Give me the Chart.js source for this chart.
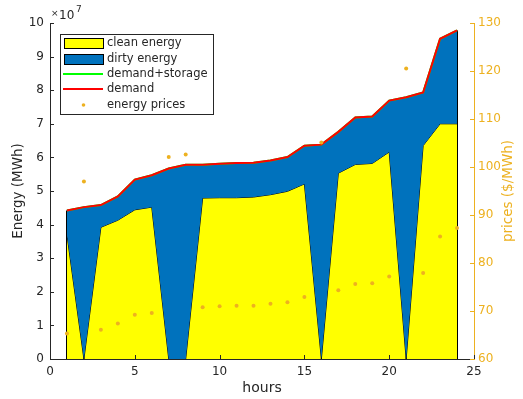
<!DOCTYPE html>
<html><head><meta charset="utf-8">
<script src="https://cdn.jsdelivr.net/npm/chart.js@4.4.1/dist/chart.umd.min.js"></script>
<style>html,body{margin:0;padding:0;background:#fff;}canvas{display:block}</style>
</head><body>
<canvas id="c" width="523" height="399"></canvas>
<script>
// ---- data (energy in units of 10^7 MWh, prices in $/MWh) ----
const hours = [1,2,3,4,5,6,7,8,9,10,11,12,13,14,15,16,17,18,19,20,21,22,23,24];
const cleanEnergy = [3.7,0,3.92,4.13,4.44,4.52,0,0,4.79,4.8,4.8,4.82,4.89,4.99,5.21,0,5.53,5.79,5.82,6.16,0,6.35,7.0,7.0];
const demand = [4.42,4.52,4.58,4.84,5.34,5.47,5.67,5.78,5.78,5.81,5.83,5.84,5.91,6.01,6.35,6.38,6.76,7.19,7.22,7.69,7.79,7.93,9.53,9.78];
const demandStorage = [4.42,4.52,4.58,4.84,5.34,5.47,5.67,5.78,5.78,5.81,5.83,5.84,5.91,6.01,6.35,6.38,6.76,7.19,7.22,7.69,7.79,7.93,9.53,9.78];
const prices = [65.3,97.0,66.1,67.4,69.2,69.6,102.1,102.6,70.8,71.0,71.1,71.1,71.5,71.8,72.9,105.1,74.3,75.6,75.8,77.2,120.5,77.9,85.5,87.3];
const xTicks = [0,5,10,15,20,25];
const yTicks = [0,1,2,3,4,5,6,7,8,9,10];
const priceTicks = [60,70,80,90,100,110,120,130];

const FONT = '"DejaVu Sans", sans-serif';
const DARK = '#262626';
const ORANGE = '#EDB120';
const YELLOW = '#FFFF00';
const BLUE = '#0072BD';

const pts = arr => hours.map((h, i) => ({x: h, y: arr[i]}));

const edgesPlugin = {
  id: 'edges',
  beforeDatasetDraw(chart, args) {
    if (args.index !== 2) return;
    const x = chart.scales.x, y = chart.scales.y, ctx = chart.ctx;
    ctx.save();
    ctx.strokeStyle = '#000'; ctx.lineWidth = 1;
    [0, hours.length - 1].forEach(i => {
      const px = Math.floor(x.getPixelForValue(hours[i])) + 0.5;
      ctx.beginPath();
      ctx.moveTo(px, y.getPixelForValue(0));
      ctx.lineTo(px, y.getPixelForValue(demand[i]));
      ctx.stroke();
    });
    ctx.restore();
  }
};

const ticksPlugin = {
  id: 'inwardTicks',
  afterDatasetsDraw(chart) {
    const {x, y, y1} = chart.scales, ctx = chart.ctx, L = 4;
    const a = chart.chartArea;
    ctx.save(); ctx.lineWidth = 1;
    ctx.strokeStyle = DARK;
    xTicks.forEach(v => { const p = Math.round(x.getPixelForValue(v)) + 0.5; ctx.beginPath(); ctx.moveTo(p, a.bottom); ctx.lineTo(p, a.bottom - L); ctx.stroke(); });
    yTicks.forEach(v => { const p = Math.round(y.getPixelForValue(v)) + 0.5; ctx.beginPath(); ctx.moveTo(a.left, p); ctx.lineTo(a.left + L, p); ctx.stroke(); });
    ctx.strokeStyle = ORANGE;
    priceTicks.forEach(v => { const p = Math.round(y1.getPixelForValue(v)) + 0.5; ctx.beginPath(); ctx.moveTo(a.right, p); ctx.lineTo(a.right - L, p); ctx.stroke(); });
    ctx.restore();
  }
};

const extrasPlugin = {
  id: 'extras',
  afterDraw(chart) {
    const ctx = chart.ctx;
    const ds = chart.data.datasets;
    ctx.save();
    // exponent label
    ctx.fillStyle = DARK; ctx.textBaseline = 'middle'; ctx.textAlign = 'left';
    ctx.font = '9px ' + FONT; ctx.fillText('\u00d7', 51, 14);
    ctx.font = '12px ' + FONT; ctx.fillText('10', 59, 16);
    ctx.font = '9px ' + FONT; ctx.fillText('7', 76, 10);
    // right axis title
    ctx.save();
    ctx.translate(508, 191); ctx.rotate(-Math.PI / 2);
    ctx.textAlign = 'center'; ctx.fillStyle = ORANGE; ctx.font = '13.5px ' + FONT;
    ctx.fillText('prices ($/MWh)', 0, 0);
    ctx.restore();
    // legend
    const bx = 60.5, by = 34.5, bw = 153, bh = 80;
    ctx.fillStyle = '#fff'; ctx.fillRect(bx, by, bw, bh);
    ctx.strokeStyle = DARK; ctx.lineWidth = 1; ctx.strokeRect(bx, by, bw, bh);
    const rows = [43.5, 59.5, 74.5, 89.5, 105.5];
    ctx.fillStyle = YELLOW; ctx.fillRect(64.5, 38.5, 39, 10); ctx.strokeStyle = '#000'; ctx.strokeRect(64.5, 38.5, 39, 10);
    ctx.fillStyle = BLUE; ctx.fillRect(64.5, 54.5, 39, 10); ctx.strokeRect(64.5, 54.5, 39, 10);
    ctx.lineWidth = 2;
    ctx.strokeStyle = '#00FF00'; ctx.beginPath(); ctx.moveTo(63, 74); ctx.lineTo(103, 74); ctx.stroke();
    ctx.strokeStyle = '#FF0000'; ctx.beginPath(); ctx.moveTo(63, 89); ctx.lineTo(103, 89); ctx.stroke();
    ctx.fillStyle = ORANGE; ctx.beginPath(); ctx.arc(83.5, 105, 1.8, 0, Math.PI * 2); ctx.fill();
    ctx.fillStyle = DARK; ctx.font = '11.5px ' + FONT; ctx.textBaseline = 'middle';
    const labels = [ds[0].label, ds[1].label, ds[2].label, ds[3].label, ds[4].label];
    labels.forEach((t, i) => ctx.fillText(t, 107, rows[i]));
    ctx.restore();
  }
};

Chart.defaults.font.family = FONT;

new Chart(document.getElementById('c'), {
  type: 'line',
  data: {
    datasets: [
      {label: 'clean energy', data: pts(cleanEnergy), yAxisID: 'y', backgroundColor: YELLOW, borderColor: '#000', borderWidth: 1, fill: 'origin', pointRadius: 0, tension: 0, order: 5},
      {label: 'dirty energy', data: pts(demand), yAxisID: 'y', backgroundColor: BLUE, borderColor: '#000', borderWidth: 1, fill: '-1', pointRadius: 0, tension: 0, order: 4},
      {label: 'demand+storage', data: pts(demandStorage), yAxisID: 'y', borderColor: '#00FF00', borderWidth: 2, fill: false, pointRadius: 0, tension: 0, order: 3},
      {label: 'demand', data: pts(demand), yAxisID: 'y', borderColor: '#FF0000', borderWidth: 2, fill: false, pointRadius: 0, tension: 0, order: 2},
      {label: 'energy prices', data: pts(prices), yAxisID: 'y1', showLine: false, pointRadius: 2, pointBackgroundColor: ORANGE, pointBorderWidth: 0, borderColor: ORANGE, order: 1}
    ]
  },
  options: {
    responsive: false, animation: false,
    layout: {padding: {top: 23, left: 0, right: 0, bottom: 0}},
    plugins: {legend: {display: false}, tooltip: {enabled: false}},
    scales: {
      x: {type: 'linear', position: 'bottom', min: 0, max: 25,
        afterBuildTicks: s => { s.ticks = xTicks.map(v => ({value: v})); },
        grid: {display: false, drawTicks: false}, border: {display: true, color: DARK, width: 1},
        ticks: {color: DARK, font: {size: 12}, padding: 6, maxRotation: 0},
        title: {display: true, text: 'hours', color: DARK, font: {size: 14}, padding: {top: 0, bottom: 2}},
        afterFit: s => { s.height = 40; }},
      y: {type: 'linear', position: 'left', min: 0, max: 10,
        afterBuildTicks: s => { s.ticks = yTicks.map(v => ({value: v})); },
        grid: {display: false, drawTicks: false}, border: {display: true, color: DARK, width: 1},
        ticks: {color: DARK, font: {size: 12}, padding: 6},
        title: {display: true, text: 'Energy (MWh)', color: DARK, font: {size: 13.5}, padding: {top: 10, bottom: 0}},
        afterFit: s => { s.width = 50; }},
      y1: {type: 'linear', position: 'right', min: 60, max: 130,
        afterBuildTicks: s => { s.ticks = priceTicks.map(v => ({value: v})); },
        grid: {display: false, drawTicks: false}, border: {display: true, color: ORANGE, width: 1},
        ticks: {color: ORANGE, font: {size: 12}, padding: 4},
        afterFit: s => { s.width = 49; }}
    }
  },
  plugins: [edgesPlugin, ticksPlugin, extrasPlugin]
});
</script>
</body></html>
